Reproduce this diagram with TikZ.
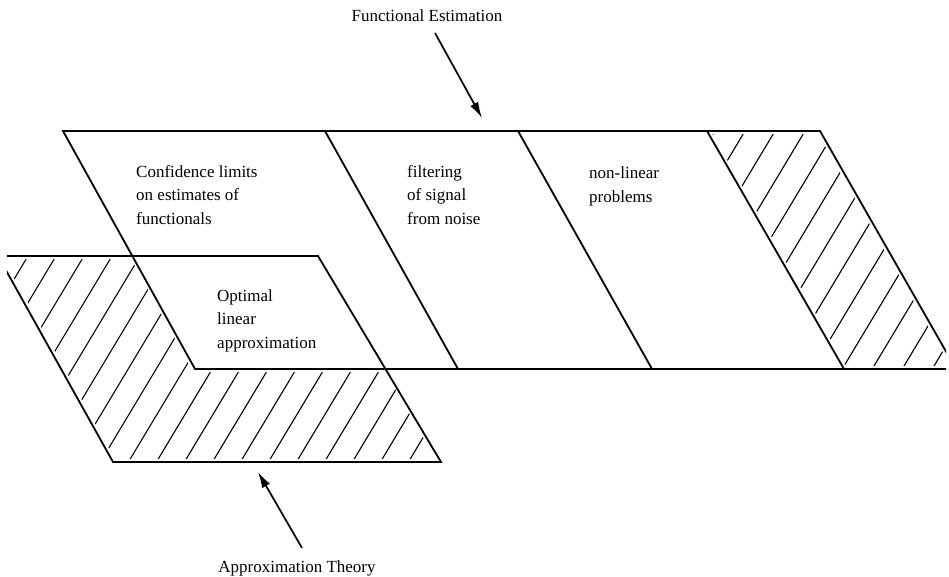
\documentclass[tikz,border=0pt]{standalone}
\usepackage{fontspec}
\setmainfont{Liberation Serif}
\usetikzlibrary{arrows.meta,positioning}

\begin{document}
\begin{tikzpicture}[x=1pt, y=-1pt,
            outline/.style={line width=1.8pt, line join=miter},
            gap/.style={draw=white, line width=6pt},
            hatchline/.style={line width=1.1pt},
            pointer/.style={line width=1.7pt, -{Latex[length=16pt, width=9pt]}},
            boxtext/.style={font=\fontsize{17}{23.5}\selectfont, align=left, anchor=base west, inner sep=0pt},
            caption/.style={font=\fontsize{17}{20}\selectfont, anchor=base, inner sep=0pt}]

            \useasboundingbox (0,0) rectangle (949,576);

            % Functional estimation band
            \coordinate (fe-tl) at (63,131);
            \coordinate (fe-tr) at (820,131);
            \coordinate (fe-br) at (956,369);
            \coordinate (fe-bl) at (195,369);
            % Approximation theory band
            \coordinate (at-tl) at (-2,256);
            \coordinate (at-tr) at (318,256);
            \coordinate (at-br) at (441,462);
            \coordinate (at-bl) at (113,462);
            % where the two bands cross
            \coordinate (cross-top) at (133,256);
            \coordinate (cross-bot) at (387,369);

            \begin{scope}
                \clip (7,0) rectangle (946,576);

                % Hatching
                \begin{scope}
                    \clip (at-tl) -- (cross-top) -- (fe-bl) -- (cross-bot) -- (at-br) -- (at-bl) -- cycle;
                    \foreach \x in {9.6,37.6,...,700}
                        \draw[hatchline] (\x,240) -- ++(-144,240);
                \end{scope}
                \begin{scope}
                    \clip (707,131) -- (fe-tr) -- (fe-br) -- (844,369) -- cycle;
                    \foreach \x in {721.6,751.6,...,1100}
                        \draw[hatchline] (\x,120) -- ++(-150,250);
                \end{scope}
                \draw[gap] (at-tl) -- (cross-top) -- (fe-bl) -- (cross-bot) -- (at-br) -- (at-bl) -- cycle;
                \draw[gap] (707,131) -- (fe-tr) -- (fe-br) -- (844,369) -- cycle;

                % Outlines
                \draw[outline] (fe-bl) -- (fe-tl) -- (fe-tr) -- (fe-br) -- cycle;
                \draw[outline] (at-tl) -- (at-tr) -- (at-br) -- (at-bl) -- cycle;
                \draw[outline] (325,131) -- (458,369);
                \draw[outline] (518,131) -- (652,369);
                \draw[outline] (707,131) -- (844,369);
            \end{scope}

            % Texts in the bands (placed at the last line)
            \node[boxtext] (conf) at (136,224) {Confidence limits\\on estimates of\\functionals};
            \node[boxtext] (filt) at (407,224) {filtering\\of signal\\from noise};
            \node[boxtext] (nonlin) at (589,202) {non-linear\\problems};
            \node[boxtext] (optim) at (217,348) {Optimal\\linear\\approximation};

            % Captions and arrows
            \node[caption] (fe) at (427,21) {Functional Estimation};
            \node[caption] (at) at (297,572) {Approximation Theory};
            \coordinate (fe-tail) at (435,33);
            \coordinate (fe-tip) at (482,118);
            \coordinate (at-tail) at (302,548);
            \coordinate (at-tip) at (258,472);
            \draw[pointer] (fe-tail) -- (fe-tip);
            \draw[pointer] (at-tail) -- (at-tip);
        \end{tikzpicture}
\end{document}
